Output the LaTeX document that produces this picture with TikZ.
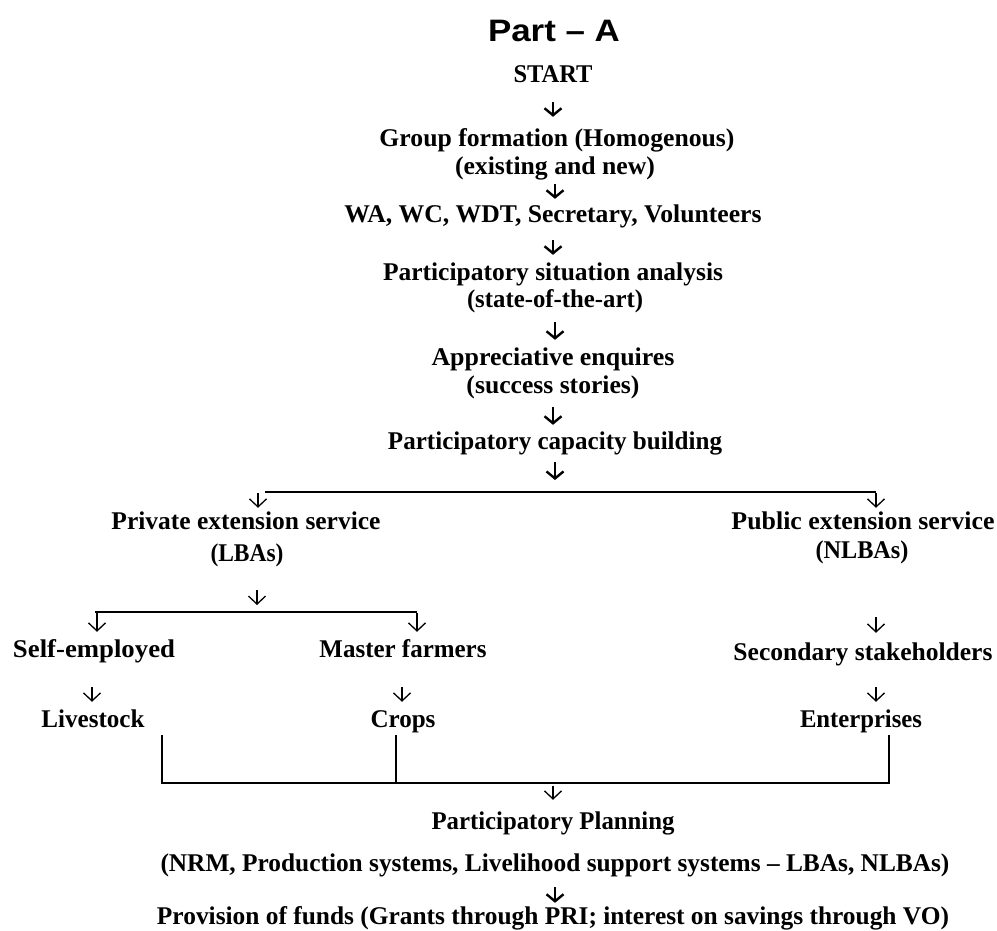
\documentclass[tikz,border=0pt]{standalone}
\usepackage{fontspec}
\setmainfont{Liberation Serif}
\newfontfamily\titlefont{Liberation Sans}
\usetikzlibrary{arrows.meta}
\newcommand\fw[2]{\resizebox{#1pt}{\height}{#2}}
\tikzset{
  txt/.style={inner sep=0pt, anchor=base, text height=17pt, text depth=6pt,
    font=\bfseries\fontsize{25.5}{30}\selectfont},
  ttl/.style={inner sep=0pt, anchor=base, font=\titlefont\bfseries\fontsize{31}{36}\selectfont},
  barrow/.style={line width=2.4pt, -{Straight Barb[length=7pt,width=17pt]}},
  tarrow/.style={line width=1.3pt, -{Straight Barb[length=8pt,width=17pt]}},
  hline/.style={line width=2.6pt},
  bline/.style={line width=2.2pt}
}
\begin{document}
\begin{tikzpicture}[x=1pt,y=-1pt]
\useasboundingbox (0,0) rectangle (997,931);
% texts
\node[ttl] (title) at (554,42) {\fw{132}{Part – A}};
\node[txt] (start) at (553,83) {\fw{79}{START}};
\node[txt] (group) at (557,147) {\fw{355}{Group formation (Homogenous)}};
\node[txt] (exist) at (555,175) {\fw{200}{(existing and new)}};
\node[txt] (wa) at (553,223) {\fw{417}{WA, WC, WDT, Secretary, Volunteers}};
\node[txt] (psa) at (553,280) {\fw{340}{Participatory situation analysis}};
\node[txt] (state) at (555,307) {\fw{176}{(state-of-the-art)}};
\node[txt] (app) at (553,365) {\fw{243}{Appreciative enquires}};
\node[txt] (succ) at (553,393) {\fw{173}{(success stories)}};
\node[txt] (cap) at (555,449) {\fw{334}{Participatory capacity building}};
\node[txt] (priv) at (246,529) {\fw{269}{Private extension service}};
\node[txt] (lbas) at (247,561) {\fw{73}{(LBAs)}};
\node[txt] (pub) at (863,529) {\fw{263}{Public extension service}};
\node[txt] (nlbas) at (862,558) {\fw{93}{(NLBAs)}};
\node[txt] (self) at (94,657) {\fw{162}{Self-employed}};
\node[txt] (master) at (403,657) {\fw{167}{Master farmers}};
\node[txt] (second) at (863,660) {\fw{259}{Secondary stakeholders}};
\node[txt] (live) at (93,727) {\fw{103}{Livestock}};
\node[txt] (crops) at (403,727) {\fw{65}{Crops}};
\node[txt] (ent) at (861,727) {\fw{122}{Enterprises}};
\node[txt] (pp) at (553,829) {\fw{243}{Participatory Planning}};
\node[txt] (nrm) at (555,871) {\fw{789}{(NRM, Production systems, Livelihood support systems – LBAs, NLBAs)}};
\node[txt] (prov) at (553,924) {\fw{792}{Provision of funds (Grants through PRI; interest on savings through VO)}};
% coordinates
\coordinate (l1a) at (265,492);
\coordinate (l1b) at (876,492);
\coordinate (p1) at (258,493);
\coordinate (p2) at (876,493);
\coordinate (q0) at (257,590);
\coordinate (l2a) at (95,612);
\coordinate (l2b) at (417,612);
\coordinate (q1) at (97,613);
\coordinate (q2) at (417,613);
\coordinate (r0) at (876,617);
\coordinate (s1) at (92,687);
\coordinate (s2) at (402,687);
\coordinate (s3) at (876,687);
\coordinate (v1) at (162,735);
\coordinate (v2) at (396,735);
\coordinate (v3) at (889,735);
\coordinate (hb) at (0,783);
\coordinate (pa) at (553,786);
% main chain
\draw[barrow, shorten <=13pt, shorten >=13pt] (start.south) -- (start.south |- group.north);
\draw[barrow, shorten <=3pt, shorten >=7pt] (exist.south) -- (exist.south |- wa.north);
\draw[barrow, shorten <=11pt, shorten >=8pt] (wa.south) -- (wa.south |- psa.north);
\draw[barrow, shorten <=9pt, shorten >=8pt] (state.south) -- (state.south |- app.north);
\draw[barrow, shorten <=8pt, shorten >=7pt] (succ.south) -- (succ.south |- cap.north);
\draw[barrow, shorten <=7pt, shorten >=12pt] (cap.south) -- (cap.south |- l1a);
% first split
\draw[hline] (l1a) -- (l1b);
\draw[tarrow, shorten >=4pt] (p1) -- (p1 |- priv.north);
\draw[tarrow, shorten >=4pt] (p2) -- (p2 |- pub.north);
% second split
\draw[tarrow, shorten >=7pt] (q0) -- (q0 |- l2a);
\draw[hline] (l2a) -- (l2b);
\draw[tarrow, shorten >=8pt] (q1) -- (q1 |- self.north);
\draw[tarrow, shorten >=8pt] (q2) -- (q2 |- master.north);
\draw[tarrow, shorten >=10pt] (r0) -- (r0 |- second.north);
\draw[tarrow, shorten >=8pt] (s1) -- (s1 |- live.north);
\draw[tarrow, shorten >=8pt] (s2) -- (s2 |- crops.north);
\draw[tarrow, shorten >=8pt] (s3) -- (s3 |- ent.north);
% bracket
\draw[bline] (v1) |- (v3 |- hb) -- (v3);
\draw[bline] (v2) -- (v2 |- hb);
\draw[tarrow, shorten >=12pt] (pa) -- (pa |- pp.north);
\draw[barrow, shorten <=10pt, shorten >=4pt] (nrm.south) -- (nrm.south |- prov.north);
\end{tikzpicture}
\end{document}
